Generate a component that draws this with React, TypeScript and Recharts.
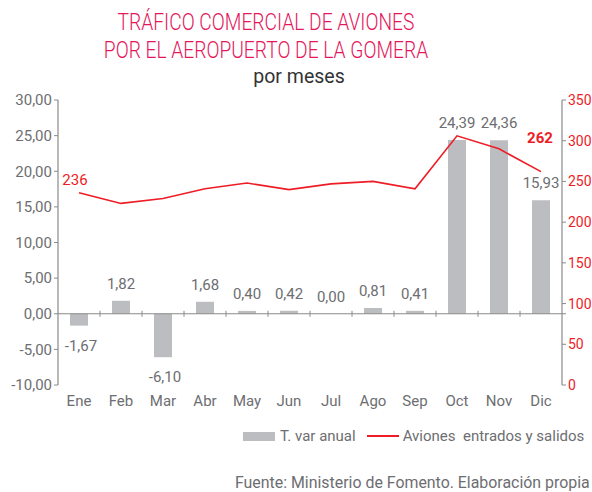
import React from 'react';
import { ComposedChart, Bar, Line, XAxis, YAxis, ReferenceLine, LabelList } from 'recharts';

const months = ['Ene', 'Feb', 'Mar', 'Abr', 'May', 'Jun', 'Jul', 'Ago', 'Sep', 'Oct', 'Nov', 'Dic'];
const varAnual = [-1.67, 1.82, -6.1, 1.68, 0.4, 0.42, 0.0, 0.81, 0.41, 24.39, 24.36, 15.93];
const aviones = [236, 223, 229, 241, 248, 240, 247, 250, 241, 306, 290, 262];
const leftTicks = [-10, -5, 0, 5, 10, 15, 20, 25, 30];
const rightTicks = [0, 50, 100, 150, 200, 250, 300, 350];

const data = months.map((m, i) => ({ mes: m, variacion: varAnual[i], aviones: aviones[i] }));

const GRAY = '#6d6e71';
const AXIS = '#8a8a8a';
const RED = '#ee1c25';
const BAR = '#bcbdc1';
const FONT = 'Roboto, "Liberation Sans", sans-serif';

const fmt = (v: number) => v.toFixed(2).replace('.', ',');

// zero line with category ticks between months
const ZeroLine = (p: any) => {
  const { x1, y1, x2 } = p;
  const step = (x2 - x1) / months.length;
  const ticks = [];
  for (let i = 1; i < months.length; i++) {
    const x = x1 + step * i;
    ticks.push(<line key={i} x1={x} x2={x} y1={y1 - 3} y2={y1 + 3} stroke={AXIS} strokeWidth={1} />);
  }
  return (
    <g>
      <line x1={x1} x2={x2 + 4} y1={y1} y2={y1} stroke={AXIS} strokeWidth={1.2} />
      {ticks}
    </g>
  );
};

// labels placed from the value point (bar end), works for zero values too
const BarLabel = (p: any) => {
  const { x, y, value } = p;
  const neg = value < 0;
  const cy = neg ? y + 20 : y - 17;
  return (
    <text x={x + (neg ? 2 : 0)} y={cy} textAnchor="middle" dominantBaseline="central" fill={GRAY} fontSize={15} fontFamily={FONT}>
      {fmt(value)}
    </text>
  );
};

const LineLabel = (p: any) => {
  const { x, y, value, index } = p;
  if (index === 0) {
    return (
      <text x={x - 4} y={y - 13} textAnchor="middle" dominantBaseline="central" fill={RED} fontSize={15} fontFamily={FONT}>
        {value}
      </text>
    );
  }
  if (index === months.length - 1) {
    return (
      <text x={x - 1} y={y - 34} textAnchor="middle" dominantBaseline="central" fill={RED} fontSize={15} fontWeight="bold" fontFamily={FONT}>
        {value}
      </text>
    );
  }
  return null;
};

export default function App() {
  return (
    <div style={{ position: 'absolute', left: 0, top: 0, width: 592, height: 492, background: '#fff', fontFamily: FONT, overflow: 'hidden' }}>
      <div style={{ position: 'absolute', top: 8, left: 0, width: 532, textAlign: 'center', color: '#e4175b', fontSize: 24, fontWeight: 300, lineHeight: '28px', transform: 'scaleX(0.8)', transformOrigin: '266px 0' }}>
        TRÁFICO COMERCIAL DE AVIONES
        <br />
        POR EL AEROPUERTO DE LA GOMERA
      </div>
      <div style={{ position: 'absolute', top: 65, left: 0, width: 598, textAlign: 'center', color: '#333', fontSize: 19.5 }}>
        por meses
      </div>
      <ComposedChart width={592} height={420} data={data} margin={{ top: 100, right: 0, bottom: 0, left: 0 }} style={{ position: 'absolute', left: 0, top: 0 }}>
        <XAxis dataKey="mes" xAxisId={0} axisLine={false} tickLine={false} height={35} tickMargin={4}
          tick={{ fill: GRAY, fontSize: 15, fontFamily: FONT }} interval={0} />
        <YAxis yAxisId="left" orientation="left" width={58} domain={[-10, 30]} ticks={leftTicks} tickFormatter={fmt}
          axisLine={{ stroke: AXIS, strokeWidth: 1.2 }} tickLine={{ stroke: AXIS }} tickSize={4}
          tick={{ fill: GRAY, fontSize: 15, fontFamily: FONT }} interval={0} />
        <YAxis yAxisId="right" orientation="right" width={30} domain={[0, 350]} ticks={rightTicks}
          axisLine={{ stroke: AXIS, strokeWidth: 1.2 }} tickLine={{ stroke: AXIS }} tickSize={4} tickMargin={2}
          tick={{ fill: RED, fontSize: 14, fontFamily: FONT, textAnchor: 'start' }} interval={0} />
        <ReferenceLine yAxisId="left" y={0} shape={ZeroLine} />
        <Bar yAxisId="left" dataKey="variacion" fill={BAR} barSize={18} isAnimationActive={false} />
        <Line yAxisId="left" dataKey="variacion" stroke="none" dot={false} activeDot={false} legendType="none" isAnimationActive={false}>
          <LabelList dataKey="variacion" content={BarLabel} />
        </Line>
        <Line yAxisId="right" dataKey="aviones" stroke={RED} strokeWidth={1.6} dot={false} type="linear" isAnimationActive={false}>
          <LabelList dataKey="aviones" content={LineLabel} />
        </Line>
      </ComposedChart>
      <div style={{ position: 'absolute', top: 427, left: 243, display: 'flex', alignItems: 'center', color: GRAY, fontSize: 15, whiteSpace: 'nowrap' }}>
        <span style={{ display: 'inline-block', width: 32, height: 9, background: BAR, marginRight: 5 }} />
        <span>T. var anual</span>
        <span style={{ display: 'inline-block', width: 32, height: 2, background: RED, marginLeft: 11, marginRight: 4 }} />
        <span style={{ whiteSpace: 'pre' }}>Aviones  entrados y salidos</span>
      </div>
      <div style={{ position: 'absolute', top: 473, left: 235, color: GRAY, fontSize: 15.9, whiteSpace: 'nowrap' }}>
        Fuente: Ministerio de Fomento. Elaboración propia
      </div>
    </div>
  );
}
